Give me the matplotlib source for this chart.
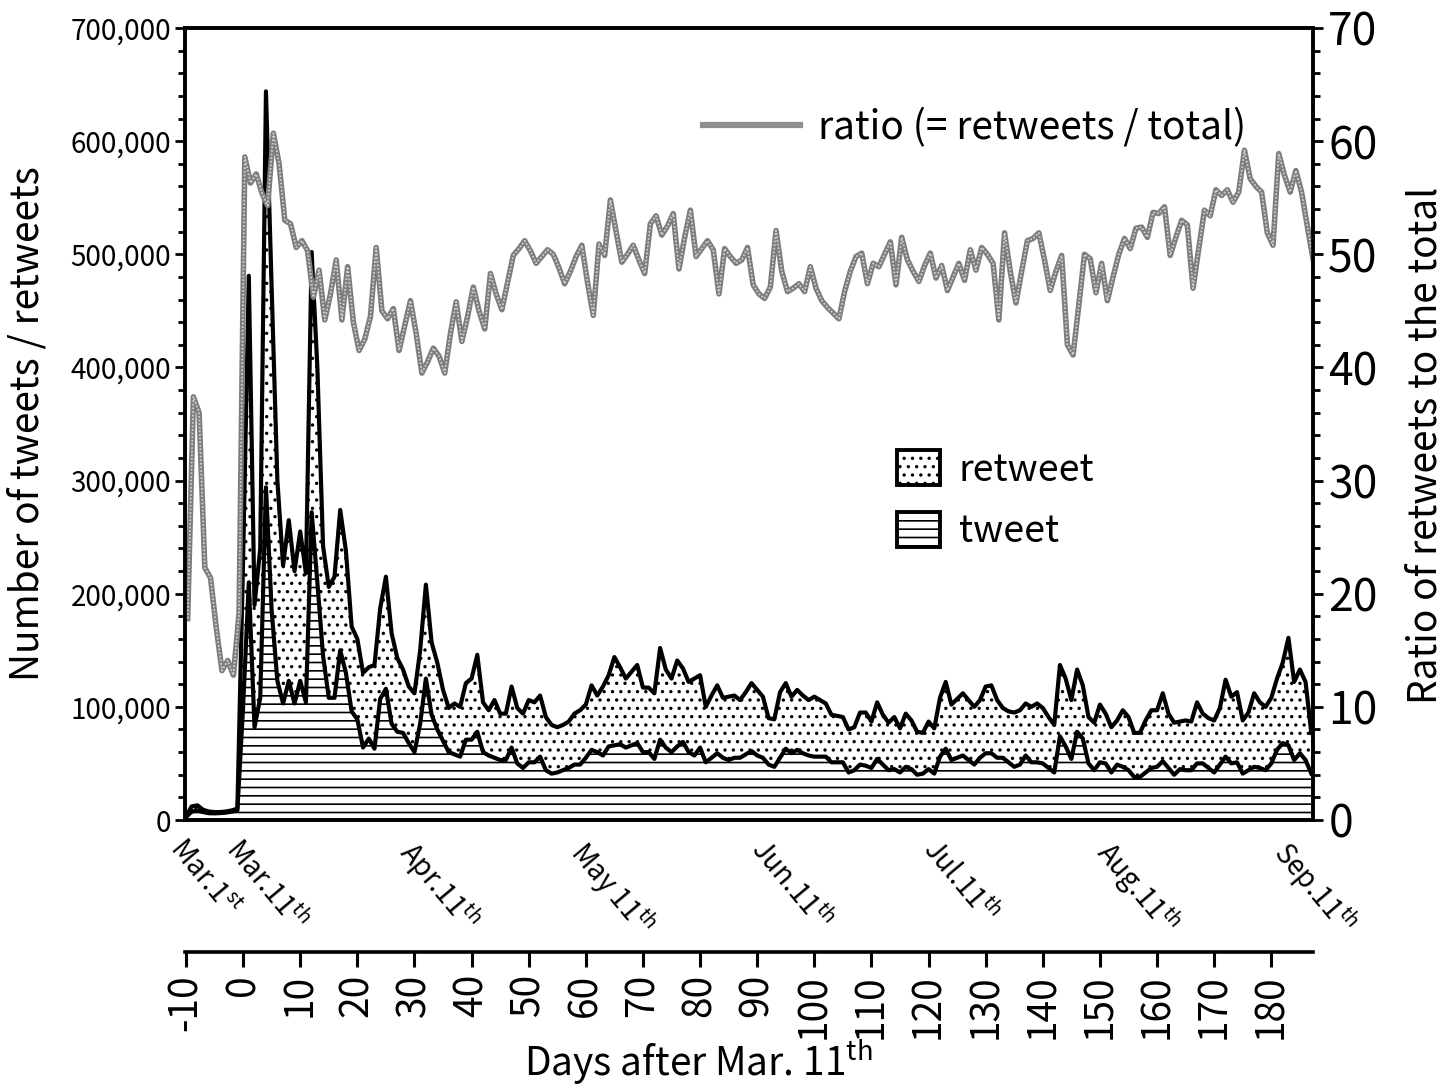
import numpy as np
import matplotlib
matplotlib.use('Agg')
import matplotlib.pyplot as plt
from matplotlib.patches import Patch
from matplotlib.lines import Line2D
from matplotlib.ticker import MultipleLocator, FuncFormatter

plt.rcParams['font.family'] = ['Noto Sans CJK JP', 'DejaVu Sans']
plt.rcParams['mathtext.default'] = 'regular'
plt.rcParams['hatch.linewidth'] = 1.2

# days after Mar. 11th
days = np.arange(-10, 188)

# total (tweets + retweets), thousands per day
total_k = [3, 12, 13, 9, 7.5, 7, 7, 7.5, 8.5, 10,
           230, 481, 190, 240, 644, 470, 300, 225, 265, 220,
           255, 218, 502, 400, 242, 206, 215, 274, 238, 171,
           160, 130, 135, 137, 187, 215, 165, 143, 133, 118,
           112, 150, 208, 157, 139, 115, 99, 103, 100, 121,
           125, 146, 104, 97, 106, 94, 94, 118, 99, 94,
           106, 104, 110, 91, 84, 82, 84, 87, 94, 97,
           102, 119, 110, 118, 128, 144, 135, 125, 131, 137,
           117, 117, 112, 152, 133, 125, 141, 134, 122, 125,
           128, 100, 110, 119, 108, 109, 110, 106, 113, 121,
           115, 109, 90, 89, 113, 121, 109, 115, 110, 106,
           109, 106, 103, 93, 92, 91, 80, 82, 95, 95,
           87, 104, 93, 86, 91, 81, 94, 88, 78, 77,
           87, 81, 108, 122, 102, 107, 112, 106, 100, 106,
           118, 119, 106, 99, 96, 95, 97, 103, 100, 103,
           99, 91, 84, 137, 125, 106, 133, 119, 91, 86,
           102, 94, 82, 88, 97, 91, 77, 77, 88, 97,
           97, 112, 94, 86, 87, 88, 87, 104, 94, 90,
           88, 99, 124, 109, 113, 88, 95, 112, 104, 100,
           108, 125, 139, 161, 122, 133, 122, 77]

# tweets only, thousands per day
tweet_k = [2.5, 7.5, 8.3, 7, 6, 5.9, 6.1, 6.5, 7.4, 8.4,
           100, 210, 82, 108, 294, 185, 123, 103, 123, 103,
           123, 104, 272, 210, 145, 108, 108, 150, 130, 96,
           89, 64, 72, 63, 107, 116, 85, 78, 77, 68,
           60, 85, 125, 93, 80, 70, 60, 58, 56, 71,
           71, 78, 60, 57, 55, 53, 53, 64, 50, 46,
           51, 51, 56, 44, 41, 42, 44, 46, 49, 49,
           55, 62, 60, 57, 65, 66, 67, 64, 66, 68,
           60, 60, 54, 71, 64, 60, 65, 69, 60, 57,
           64, 51, 55, 59, 55, 53, 55, 55, 58, 61,
           57, 55, 49, 47, 55, 63, 59, 62, 59, 57,
           56, 56, 56, 51, 51, 51, 42, 44, 49, 48,
           46, 54, 49, 44, 45, 42, 47, 45, 40, 41,
           45, 41, 56, 63, 53, 55, 57, 53, 49, 55,
           59, 59, 55, 55, 51, 47, 49, 57, 51, 51,
           50, 46, 42, 74, 65, 54, 78, 72, 50, 44,
           51, 50, 42, 49, 47, 44, 38, 38, 42, 46,
           47, 52, 46, 40, 45, 44, 44, 50, 50, 46,
           42, 49, 56, 50, 51, 41, 44, 47, 46, 44,
           50, 62, 68, 66, 53, 59, 53, 41]

# ratio of retweets to the total, percent
ratio = [17.8, 37.4, 36, 22.3, 21.4, 17, 13.2, 14.1, 12.8, 18.3,
         58.6, 56.3, 57.1, 55.4, 54.3, 60.7, 58, 53, 52.7, 50.6,
         51.2, 50.3, 46.2, 48.6, 44.2, 46.5, 49.5, 44.2, 48.9, 44,
         41.5, 42.5, 44.5, 50.6, 45, 44.3, 45.2, 41.5, 43.7, 45.9,
         43, 39.5, 40.5, 41.7, 41, 39.5, 43, 45.8, 42.3, 44.5,
         47.1, 45, 43.4, 48.3, 46.5, 45.1, 47.5, 49.9, 50.5, 51.2,
         50.3, 49.2, 49.8, 50.4, 50, 48.8, 47.4, 48.5, 49.8, 50.8,
         47.5, 44.6, 50.9, 49.9, 54.8, 52, 49.3, 50, 50.8, 49.5,
         48.3, 52.7, 53.4, 51.7, 52.5, 53.6, 48.7, 51.5, 53.9, 49.8,
         50.5, 51.2, 50.4, 46.5, 50.5, 49.8, 49.2, 49.5, 50.6, 47.3,
         46.5, 46.1, 47.1, 52.1, 48.5, 46.7, 47, 47.4, 46.7, 48.9,
         47, 45.9, 45.3, 44.8, 44.3, 46.7, 48.5, 49.8, 50.1, 47.4,
         49.2, 48.9, 50, 51.1, 47.3, 51.5, 49.5, 48.5, 47.6, 49,
         50.1, 47.9, 49, 46.8, 48, 49.2, 47.7, 50.4, 48.6, 50.6,
         50, 49.2, 44.2, 51.9, 48.5, 45.7, 48.5, 51.2, 51.4, 51.9,
         49.5, 46.8, 48.5, 49.9, 42, 41.1, 45.5, 50, 49.6, 46.6,
         49.2, 45.9, 48, 50, 51.4, 50.5, 52.3, 52.4, 51.5, 53.7,
         53.6, 54.2, 49.9, 51.5, 53, 52.6, 47, 50.5, 53.9, 53.4,
         55.7, 55.2, 55.7, 54.6, 55.5, 59.2, 56.7, 56, 55.5, 51.9,
         50.8, 58.9, 57, 55.5, 57.4, 55.5, 52.5, 49.6]

date_days = [-10, 0, 31, 61, 92, 122, 153, 184]
date_labels = ['Mar.1$^{st}$', 'Mar.11$^{th}$', 'Apr.11$^{th}$', 'May 11$^{th}$',
               'Jun.11$^{th}$', 'Jul.11$^{th}$', 'Aug.11$^{th}$', 'Sep.11$^{th}$']
day_ticks = list(range(-10, 181, 10))

total = np.array(total_k) * 1000
tweet = np.array(tweet_k) * 1000

fig = plt.figure(figsize=(14.52, 10.86), dpi=100)
ax = fig.add_axes([185/1452, 1 - 820/1086, 1128/1452, 792/1086])

# stacked areas
ax.fill_between(days, 0, tweet, facecolor='white', edgecolor='black', hatch='--', lw=0)
ax.fill_between(days, tweet, total, facecolor='white', edgecolor='black', hatch='..', lw=0)
ax.plot(days, tweet, color='black', lw=3)
ax.plot(days, total, color='black', lw=3)

ax.set_xlim(-10.17, 187.3)
ax.set_ylim(0, 700000)
ax.yaxis.set_major_locator(MultipleLocator(100000))
ax.yaxis.set_minor_locator(MultipleLocator(20000))
ax.yaxis.set_major_formatter(FuncFormatter(lambda v, p: f'{int(v):,}'))
ax.tick_params(axis='y', which='major', direction='out', length=7, width=2, labelsize=20, pad=3)
ax.tick_params(axis='y', which='minor', direction='out', length=5, width=2)
ax.set_xticks(date_days, date_labels, rotation=-50, ha='left', va='top',
              rotation_mode='anchor', fontsize=20)
ax.tick_params(axis='x', length=0, pad=10)
for s in ax.spines.values():
    s.set_linewidth(2.6)

ax.set_ylabel('Number of tweets / retweets', fontsize=28)
ax.yaxis.set_label_coords(-0.122, 0.5)

# ratio line on the right axis
ax2 = ax.twinx()
ax2.plot(days + 0.3, ratio, color='#7d7d7d', lw=4)
ax2.plot(days + 0.3, ratio, color='#cfcfcf', lw=1.3, ls=(0, (1, 1)))
ax2.set_ylim(0, 70)
ax2.yaxis.set_major_locator(MultipleLocator(10))
ax2.yaxis.set_minor_locator(MultipleLocator(2))
ax2.tick_params(axis='y', which='major', direction='out', length=7, width=2, labelsize=32, pad=4)
ax2.tick_params(axis='y', which='minor', direction='out', length=5, width=2)
for s in ax2.spines.values():
    s.set_linewidth(2.6)
ax2.set_ylabel('Ratio of retweets to the total', fontsize=28)
ax2.yaxis.set_label_coords(1.0816, 0.473)

# days axis underneath
sec = ax.secondary_xaxis(-0.1667)
sec.set_xticks(day_ticks, [str(d) for d in day_ticks])
sec.tick_params(direction='out', length=11, width=2.2, labelsize=28, labelrotation=90, pad=5)
sec.spines['bottom'].set_linewidth(2.6)
fig.text(698/1452, 1 - 1062/1086, 'Days after Mar. 11$^{th}$', ha='center', va='center', fontsize=28)

# legends
leg1 = ax2.legend([Line2D([], [], color='#8f8f8f', lw=4.5)], ['ratio (= retweets / total)'],
                  loc='center left', bbox_to_anchor=(0.459, 0.874), frameon=False,
                  fontsize=28, handlelength=2.5, handletextpad=0.46, borderpad=0, borderaxespad=0)
ax2.add_artist(leg1)
area_handles = [Patch(facecolor='white', edgecolor='black', hatch='..', lw=2.8),
                Patch(facecolor='white', edgecolor='black', hatch='--', lw=2.8)]
ax2.legend(area_handles, ['retweet', 'tweet'], loc='upper left', bbox_to_anchor=(0.631, 0.467),
           frameon=False, fontsize=27, handlelength=1.15, handleheight=1.07,
           handletextpad=0.5, labelspacing=0.6, borderpad=0, borderaxespad=0)

fig.savefig('out.png', dpi=100)
